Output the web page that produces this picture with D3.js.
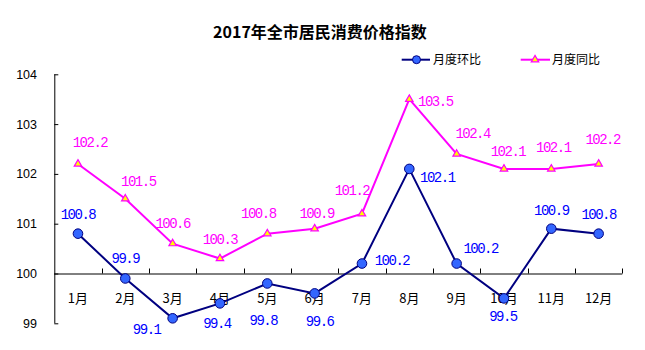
<!DOCTYPE html>
<html><head><meta charset="utf-8">
<script src="https://cdn.jsdelivr.net/npm/d3@7"></script>
<style>body{margin:0;background:#fff}</style>
</head><body>
<svg id="c" width="645" height="350"></svg>
<script>
const title = "2017年全市居民消费价格指数";
const categories = ["1月","2月","3月","4月","5月","6月","7月","8月","9月","10月","11月","12月"];
const seriesNames = ["月度环比","月度同比"];
const huanbi = [100.8, 99.9, 99.1, 99.4, 99.8, 99.6, 100.2, 102.1, 100.2, 99.5, 100.9, 100.8];
const tongbi = [102.2, 101.5, 100.6, 100.3, 100.8, 100.9, 101.2, 103.5, 102.4, 102.1, 102.1, 102.2];
const yTicks = [99, 100, 101, 102, 103, 104];
// label placement offsets (px) relative to each point
const hbDx = [0, 0, -26, -3, -4, 5, 30, 28, 24, -1, 0, 0];
const hbDy = [-20, -20, 11, 20, 37, 28, -4, 8, -16, 18, -19, -20];
const tbDx = [12, 13, 0, 0, -9, 2, -10, 26, 16, 4, 2, 4];
const tbDy = [-22, -18, -21, -20, -21, -16, -24, 2, -21, -18, -22, -25];

const svg = d3.select("#c");
const x = d3.scaleBand().domain(categories).range([54.3, 622.3]);
const y = d3.scaleLinear().domain([99, 104]).range([323.3, 74.3]);
const cx = c => x(c) + x.bandwidth()/2;

// title
svg.append("text").attr("x", 320).attr("y", 37.5).attr("text-anchor","middle")
  .attr("font-family","'Noto Sans CJK SC'").attr("font-weight","bold").attr("font-size",16)
  .attr("fill","#000").text(title);

// y axis
const yAxis = d3.axisRight(y).tickValues(yTicks).tickSize(4).tickFormat("");
const gy = svg.append("g").attr("transform","translate(54.3,0)").call(yAxis);
gy.select(".domain").attr("d", `M0.5,${y(104)}V${y(99)}`).attr("stroke","#000");
gy.selectAll(".tick line").attr("stroke","#000");
svg.append("g").selectAll("text").data(yTicks).join("text")
  .attr("x", 37).attr("y", d => y(d) + 4.5).attr("text-anchor","end")
  .attr("font-family","'Liberation Sans', Arial, sans-serif").attr("font-size",12.5)
  .attr("fill","#000").text(d => d);

// x axis at 100
const xb = categories.map(c => x(c) + x.bandwidth());
const gx = svg.append("g");
gx.append("line").attr("x1",54.3).attr("x2",622.3).attr("y1",y(100)+0.5).attr("y2",y(100)+0.5).attr("stroke","#000");
gx.selectAll("line.t").data(xb).join("line").attr("class","t")
  .attr("x1", d => Math.round(d)+0.5).attr("x2", d => Math.round(d)+0.5)
  .attr("y1", y(100)).attr("y2", y(100)-5).attr("stroke","#000");
gx.selectAll("text").data(categories).join("text")
  .attr("x", d => cx(d)).attr("y", 302.5).attr("text-anchor","middle")
  .attr("font-family","'Noto Sans CJK SC'").attr("font-size",13).attr("fill","#000").text(d => d);

// lines
const line = d3.line().x((d,i) => cx(categories[i])).y(d => y(d));
svg.append("path").datum(tongbi).attr("d", line).attr("fill","none").attr("stroke","#ff00ff").attr("stroke-width",2);
svg.append("path").datum(huanbi).attr("d", line).attr("fill","none").attr("stroke","#000080").attr("stroke-width",2);

const tri = d3.symbol().type(d3.symbolTriangle).size(24);
svg.append("g").selectAll("path").data(tongbi).join("path")
  .attr("d", tri).attr("transform",(d,i)=>`translate(${cx(categories[i])},${y(d)})`)
  .attr("fill","#ffff00").attr("stroke","#ff00ff").attr("stroke-width",1.2);
svg.append("g").selectAll("circle").data(huanbi).join("circle")
  .attr("cx",(d,i)=>cx(categories[i])).attr("cy", d => y(d)).attr("r",4.8)
  .attr("fill","#3366ff").attr("stroke","#000080").attr("stroke-width",1);

// data labels
const lblFont = "'Liberation Mono', monospace";
svg.append("g").selectAll("text").data(tongbi).join("text")
  .attr("x",(d,i)=>cx(categories[i])+tbDx[i]).attr("y",(d,i)=>y(d)+tbDy[i]+5)
  .attr("text-anchor","middle").attr("font-family",lblFont).attr("font-size",14).attr("letter-spacing",-1.5)
  .attr("fill","#ff00ff").text(d => d.toFixed(1));
svg.append("g").selectAll("text").data(huanbi).join("text")
  .attr("x",(d,i)=>cx(categories[i])+hbDx[i]).attr("y",(d,i)=>y(d)+hbDy[i]+5)
  .attr("text-anchor","middle").attr("font-family",lblFont).attr("font-size",14).attr("letter-spacing",-1.5)
  .attr("fill","#0000ff").text(d => d.toFixed(1));

// legend
const lg = svg.append("g");
lg.append("line").attr("x1",401.7).attr("x2",430).attr("y1",59.7).attr("y2",59.7).attr("stroke","#000080").attr("stroke-width",2);
lg.append("circle").attr("cx",416.5).attr("cy",59.7).attr("r",4).attr("fill","#3366ff").attr("stroke","#000080");
lg.append("text").attr("x",433).attr("y",64).attr("font-family","'Noto Sans CJK SC'").attr("font-size",12).attr("fill","#000").text(seriesNames[0]);
lg.append("line").attr("x1",520.7).attr("x2",550).attr("y1",59.7).attr("y2",59.7).attr("stroke","#ff00ff").attr("stroke-width",2);
lg.append("path").attr("d",tri).attr("transform","translate(535,59.7)").attr("fill","#ffff00").attr("stroke","#ff00ff").attr("stroke-width",1.2);
lg.append("text").attr("x",552).attr("y",64).attr("font-family","'Noto Sans CJK SC'").attr("font-size",12).attr("fill","#000").text(seriesNames[1]);
</script>
</body></html>
